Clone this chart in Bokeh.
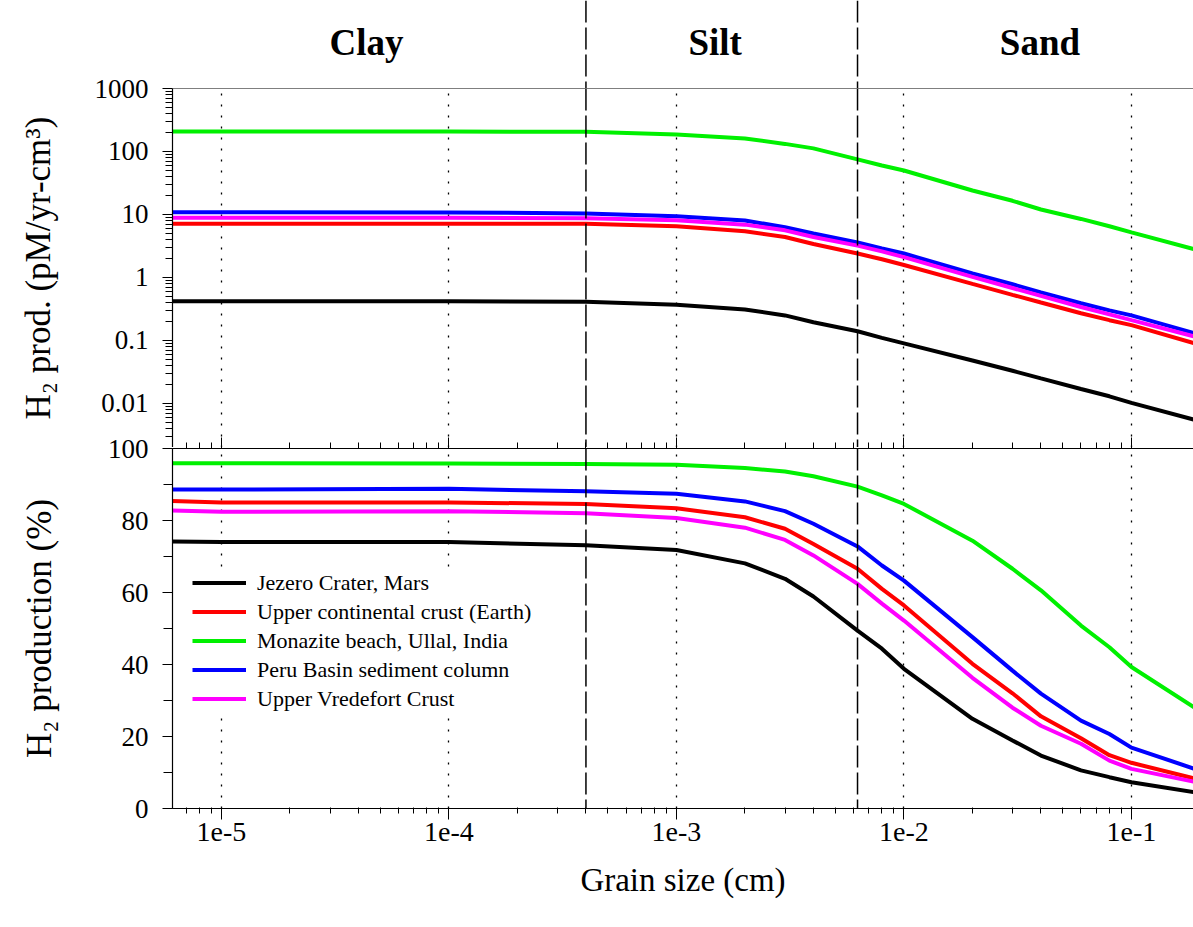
from bokeh.plotting import figure
from bokeh.layouts import column
from bokeh.models import (ColumnDataSource, FixedTicker, CustomJSTickFormatter, Span,
                          SingleIntervalTicker, LogAxis)
from bokeh.core.properties import value
from bokeh.embed import file_html
from bokeh.resources import INLINE

# ---------------- data ----------------
grain_size = [6e-6, 1e-5, 1e-4, 4e-4, 1e-3, 2e-3, 3e-3, 4e-3, 6.25e-3, 8e-3,
              1e-2, 2e-2, 3e-2, 4e-2, 6e-2, 8e-2, 1e-1, 0.19]

series_names = ["Jezero Crater, Mars", "Upper continental crust (Earth)",
                "Monazite beach, Ullal, India", "Peru Basin sediment column",
                "Upper Vredefort Crust"]
series_colors = ["#000000", "#ff0000", "#00f000", "#0000ff", "#ff00ff"]

# H2 production rate (pM/yr-cm3)
prod_jezero = [0.42, 0.42, 0.42, 0.41, 0.37, 0.31, 0.25, 0.195, 0.14, 0.11,
               0.09, 0.048, 0.033, 0.025, 0.017, 0.013, 0.0102, 0.0055]
prod_ucc = [7.1, 7.1, 7.1, 7.1, 6.5, 5.4, 4.4, 3.4, 2.4, 1.95,
            1.58, 0.79, 0.53, 0.40, 0.27, 0.21, 0.175, 0.09]
prod_monazite = [207, 207, 207, 205, 186, 161, 132, 112, 75, 60,
                 50, 24, 16.5, 12, 8.5, 6.5, 5.2, 2.8]
prod_peru = [10.9, 10.9, 10.8, 10.4, 9.4, 8.0, 6.3, 5.0, 3.6, 2.9,
             2.4, 1.16, 0.78, 0.58, 0.39, 0.30, 0.25, 0.13]
prod_vredefort = [8.9, 8.9, 8.9, 8.7, 8.1, 6.9, 5.6, 4.4, 3.2, 2.6,
                  2.1, 1.02, 0.68, 0.51, 0.34, 0.26, 0.21, 0.115]

# H2 production efficiency (%)
pct_jezero = [74.2, 74.0, 74.0, 73.1, 71.8, 68.1, 63.8, 58.9, 49.4, 44.4,
              38.8, 24.9, 18.9, 14.7, 10.6, 8.7, 7.3, 4.5]
pct_ucc = [85.4, 85.0, 85.0, 84.6, 83.4, 80.9, 77.7, 73.5, 66.6, 61.0,
           56.4, 40.2, 32.0, 25.6, 19.5, 14.8, 12.7, 8.3]
pct_monazite = [95.9, 95.9, 95.8, 95.7, 95.5, 94.6, 93.6, 92.3, 89.4, 87.0,
                84.6, 74.4, 66.6, 60.6, 50.8, 44.8, 39.3, 28.0]
pct_peru = [88.6, 88.6, 88.8, 88.1, 87.4, 85.3, 82.6, 79.1, 72.8, 67.5,
            63.3, 47.6, 38.3, 31.9, 24.4, 20.7, 16.9, 11.0]
pct_vredefort = [82.8, 82.4, 82.6, 82.0, 80.7, 78.0, 74.6, 70.3, 62.4, 56.9,
                 52.2, 36.3, 28.0, 23.0, 18.0, 13.3, 11.0, 7.4]

prod_series = [prod_jezero, prod_ucc, prod_monazite, prod_peru, prod_vredefort]
pct_series = [pct_jezero, pct_ucc, pct_monazite, pct_peru, pct_vredefort]

zone_names = ["Clay", "Silt", "Sand"]
zone_label_x = [4.34e-5, 1.48e-3, 0.0396]
zone_boundaries = [4e-4, 6.25e-3]

x_decades = [1e-5, 1e-4, 1e-3, 1e-2, 1e-1]
y_decades = [0.01, 0.1, 1, 10, 100, 1000]
prod_range = (0.002, 1000)

# ---------------- layout / styling ----------------
FONT = "Liberation Serif"
X_RANGE = (6.09e-6, 0.1874)
FRAME_W = 1021
LEFT = 172
HEADER_PX = 88
TOP_PAD = 15            # room for the "1000" label, overlapping the header band
MID_PAD = 19            # room for the "100" label, overlapping the upper panel

x_minor = [m * 10.0 ** e for e in range(-6, 0) for m in range(2, 10)]
y_minor = [m * 10.0 ** e for e in range(-3, 3) for m in range(2, 10)]


def dashed_spans(p):
    for b in zone_boundaries:
        p.add_layout(Span(location=b, dimension="height", line_color="black",
                          line_width=1.5, line_dash="22 5"))


def dotted_grid(p):
    p.xgrid.ticker = FixedTicker(ticks=x_decades)
    p.xgrid.grid_line_color = "black"
    p.xgrid.grid_line_dash = "2 9"
    p.xgrid.grid_line_width = 1.3
    p.ygrid.grid_line_color = None


def style_axis(ax):
    ax.axis_line_color = "black"
    ax.axis_line_width = 1.2
    ax.major_tick_line_color = "black"
    ax.minor_tick_line_color = "black"
    ax.major_label_text_font = FONT
    ax.major_label_text_color = "black"
    ax.axis_label_text_font = FONT
    ax.axis_label_text_font_style = "normal"
    ax.axis_label_text_color = "black"


# ---------- header band ----------
head = figure(frame_width=FRAME_W, frame_height=HEADER_PX, x_axis_type="log", x_range=X_RANGE,
              y_range=(0, 1), x_axis_location=None, y_axis_location=None,
              output_backend="svg", toolbar_location=None, min_border_left=LEFT,
              min_border_right=0, min_border_top=0, min_border_bottom=0)
head.outline_line_color = None
head.xgrid.grid_line_color = None
head.ygrid.grid_line_color = None
zsrc = ColumnDataSource(dict(x=zone_label_x, y=[0.52] * len(zone_names), t=zone_names))
head.text(x="x", y="y", text="t", source=zsrc, text_font=value(FONT), text_font_style="bold",
          text_font_size="37px", text_align="center", text_baseline="middle", text_color="black")
dashed_spans(head)

# ---------- upper panel: production (log) ----------
top = figure(frame_width=FRAME_W, frame_height=359, x_axis_type="log", y_axis_type="log",
             x_range=head.x_range, y_range=prod_range, x_axis_location=None,
             output_backend="svg", toolbar_location=None, min_border_left=LEFT,
             min_border_right=0, min_border_top=TOP_PAD, min_border_bottom=0)
top.outline_line_color = None
top.background_fill_alpha = 0
top.border_fill_alpha = 0
top.styles = {"margin-top": f"-{TOP_PAD}px"}
dotted_grid(top)
for name, col, ys in zip(series_names, series_colors, prod_series):
    top.line(grain_size, ys, line_color=col, line_width=4)
dashed_spans(top)
top.add_layout(Span(location=prod_range[1], dimension="width", line_color="black",
                    line_width=1.2))

yax = top.yaxis[0]
yax.ticker = FixedTicker(ticks=y_decades, minor_ticks=y_minor)
yax.formatter = CustomJSTickFormatter(code="return String(tick);")
yax.axis_label = "H\u2082 prod. (pM/yr-cm\u00b3)"
yax.major_tick_out = 10
yax.major_tick_in = 0
yax.minor_tick_out = 7
yax.minor_tick_in = 0
yax.major_label_text_font_size = "27px"
yax.major_label_standoff = 14
yax.axis_label_text_font_size = "35px"
yax.axis_label_standoff = 34
style_axis(yax)

# ---------- lower panel: percent ----------
bot = figure(frame_width=FRAME_W, frame_height=360, x_axis_type="log", x_range=head.x_range,
             y_range=(0, 100), output_backend="svg", toolbar_location=None,
             min_border_left=LEFT, min_border_right=0, min_border_top=MID_PAD + 1,
             min_border_bottom=5)
bot.outline_line_color = None
bot.background_fill_alpha = 0
bot.border_fill_alpha = 0
bot.styles = {"margin-top": f"-{MID_PAD}px"}
dotted_grid(bot)

for name, col, ys in zip(series_names, series_colors, pct_series):
    bot.line(grain_size, ys, line_color=col, line_width=4, legend_label=name)
dashed_spans(bot)

xax = bot.below[0]
xax.ticker = FixedTicker(ticks=x_decades, minor_ticks=x_minor)
xax.formatter = CustomJSTickFormatter(code="return tick.toExponential();")
xax.axis_label = "Grain size (cm)"
xax.major_tick_out = 11
xax.major_tick_in = 1
xax.minor_tick_out = 5
xax.minor_tick_in = 1
xax.major_label_text_font_size = "28px"
xax.major_label_standoff = 3
xax.axis_label_standoff = 18
xax.axis_label_text_font_size = "33px"
style_axis(xax)

# shared boundary axis (ticks point up into the upper panel)
mid_axis = LogAxis(ticker=FixedTicker(ticks=x_decades, minor_ticks=x_minor),
                   formatter=CustomJSTickFormatter(code="return '';"),
                   major_tick_out=11, major_tick_in=0, minor_tick_out=6, minor_tick_in=0,
                   major_label_text_font_size="1px", major_label_standoff=0)
style_axis(mid_axis)
bot.add_layout(mid_axis, "above")

bax = bot.yaxis[0]
bax.ticker = SingleIntervalTicker(interval=20, num_minor_ticks=2)
bax.axis_label = "H\u2082 production (%)"
bax.major_tick_out = 10
bax.major_tick_in = 0
bax.minor_tick_out = 9
bax.minor_tick_in = 0
bax.major_label_text_font_size = "27px"
bax.major_label_standoff = 14
bax.axis_label_text_font_size = "35px"
bax.axis_label_standoff = 46
style_axis(bax)

leg = bot.legend[0]
leg.location = (20, 95)
leg.label_text_font = FONT
leg.label_text_font_size = "22px"
leg.label_text_color = "black"
leg.glyph_width = 54
leg.glyph_height = 29
leg.label_height = 29
leg.spacing = 0
leg.label_standoff = 11
leg.padding = 10
leg.margin = 0
leg.border_line_color = None
leg.background_fill_color = "white"
leg.background_fill_alpha = 1.0

layout = column(head, top, bot, spacing=0)
open("out.html", "w").write(file_html(layout, INLINE))
